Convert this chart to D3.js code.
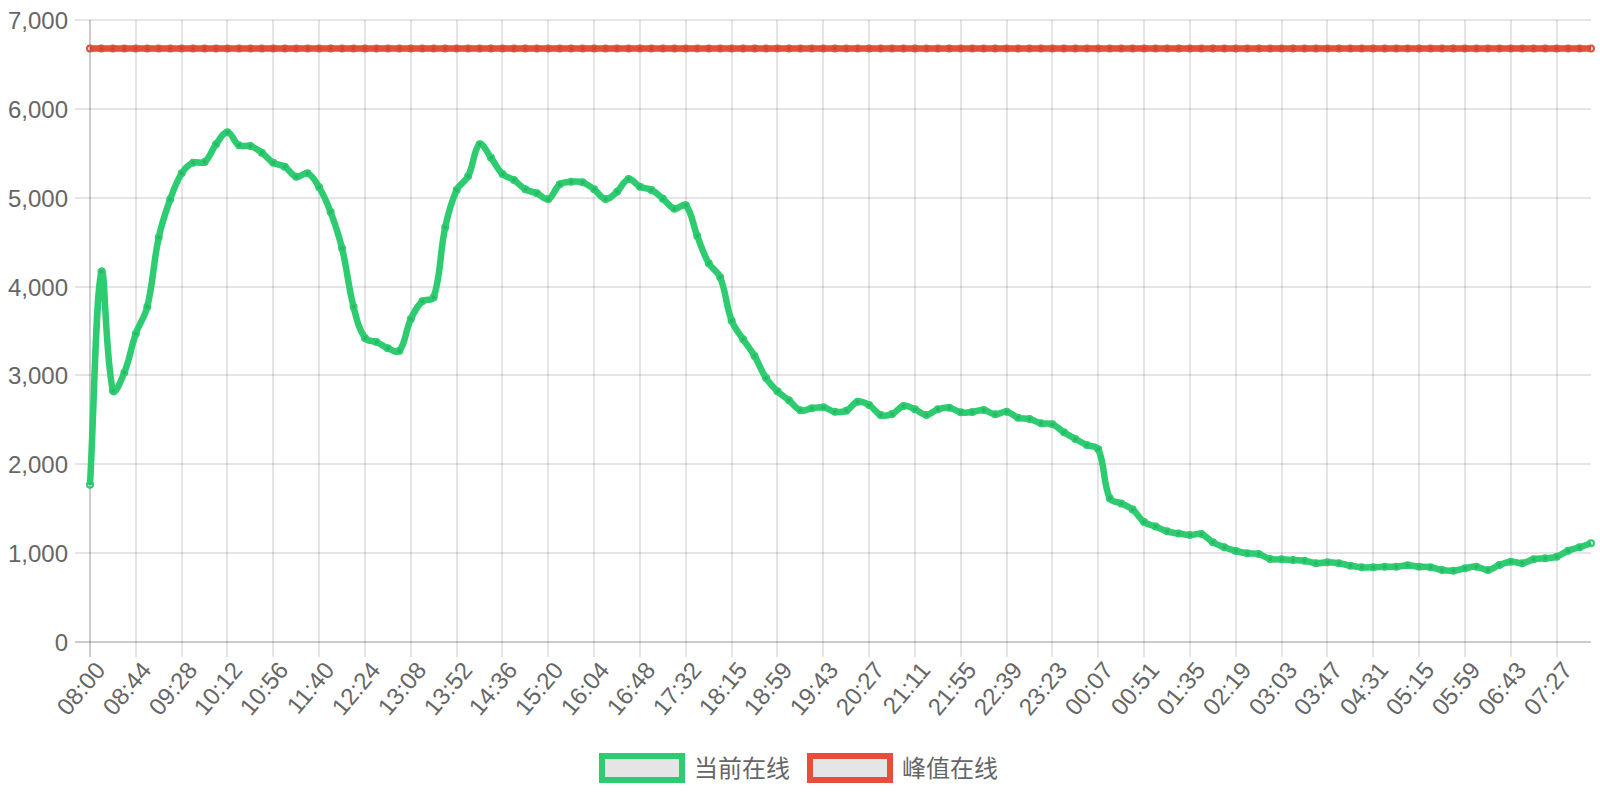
<!DOCTYPE html>
<html><head><meta charset="utf-8">
<script src="https://cdn.jsdelivr.net/npm/d3@7/dist/d3.min.js"></script>
<style>html,body{margin:0;padding:0;background:#fff;}svg{display:block;}</style>
</head><body>
<svg id="chart" width="1600" height="800"></svg>
<script>
const timeLabels = ["08:00","08:11","08:22","08:33","08:44","08:55","09:06","09:17","09:28","09:39","09:50","10:01","10:12","10:23","10:34","10:45","10:56","11:07","11:18","11:29","11:40","11:51","12:02","12:13","12:24","12:35","12:46","12:57","13:08","13:19","13:30","13:41","13:52","14:03","14:14","14:25","14:36","14:47","14:58","15:09","15:20","15:31","15:42","15:53","16:04","16:15","16:26","16:37","16:48","16:59","17:10","17:21","17:32","17:43","17:54","18:04","18:15","18:26","18:37","18:48","18:59","19:10","19:21","19:32","19:43","19:54","20:05","20:16","20:27","20:38","20:49","21:00","21:11","21:22","21:33","21:44","21:55","22:06","22:17","22:28","22:39","22:50","23:01","23:12","23:23","23:34","23:45","23:56","00:07","00:18","00:29","00:40","00:51","01:02","01:13","01:24","01:35","01:46","01:57","02:08","02:19","02:30","02:41","02:52","03:03","03:14","03:25","03:36","03:47","03:58","04:09","04:20","04:31","04:42","04:53","05:04","05:15","05:26","05:37","05:48","05:59","06:10","06:21","06:32","06:43","06:54","07:05","07:16","07:27","07:38","07:49","08:00"];

const currentOnline = [1770,4167,2827,3034,3470,3773,4554,4982,5274,5394,
 5402,5601,5736,5590,5582,5506,5394,5349,5236,5274,
 5117,4839,4430,3773,3420,3375,3305,3278,3635,3834,
 3879,4667,5087,5241,5601,5450,5267,5199,5094,5049,
 4985,5151,5180,5173,5094,4985,5068,5210,5124,5087,
 4989,4876,4914,4569,4262,4104,3616,3406,3219,2971,
 2821,2720,2607,2630,2641,2592,2603,2704,2667,2555,
 2566,2656,2619,2555,2619,2637,2585,2588,2611,2562,
 2592,2524,2510,2461,2450,2360,2285,2217,2169,1617,
 1560,1490,1350,1300,1245,1222,1204,1215,1122,1066,
 1024,998,990,934,931,923,915,886,897,886,
 859,841,841,848,848,863,848,841,810,803,
 829,848,810,867,904,886,931,942,960,1027,
 1066,1111];

const peakOnline = [6678,6678,6678,6678,6678,6678,6678,6678,6678,6678,6678,6678,
 6678,6678,6678,6678,6678,6678,6678,6678,6678,6678,6678,6678,
 6678,6678,6678,6678,6678,6678,6678,6678,6678,6678,6678,6678,
 6678,6678,6678,6678,6678,6678,6678,6678,6678,6678,6678,6678,
 6678,6678,6678,6678,6678,6678,6678,6678,6678,6678,6678,6678,
 6678,6678,6678,6678,6678,6678,6678,6678,6678,6678,6678,6678,
 6678,6678,6678,6678,6678,6678,6678,6678,6678,6678,6678,6678,
 6678,6678,6678,6678,6678,6678,6678,6678,6678,6678,6678,6678,
 6678,6678,6678,6678,6678,6678,6678,6678,6678,6678,6678,6678,
 6678,6678,6678,6678,6678,6678,6678,6678,6678,6678,6678,6678,
 6678,6678,6678,6678,6678,6678,6678,6678,6678,6678,6678,6678];

const xTickLabels = ["08:00","08:44","09:28","10:12","10:56","11:40","12:24","13:08","13:52","14:36","15:20","16:04","16:48","17:32","18:15","18:59","19:43","20:27","21:11","21:55","22:39","23:23","00:07","00:51","01:35","02:19","03:03","03:47","04:31","05:15","05:59","06:43","07:27"];
const yTickValues = [0,1000,2000,3000,4000,5000,6000,7000];
const seriesNames = ["当前在线","峰值在线"];
const seriesColors = ["#2ecc71","#e74c3c"];

const FONT = '"Liberation Sans","Noto Sans CJK SC",Arial,sans-serif';
const area = {left:90, right:1591, top:20, bottom:642};
const tickLen = 15;
const svg = d3.select("#chart");

const idx = d3.range(timeLabels.length);
const x = d3.scalePoint().domain(idx).range([area.left, area.right]);
const y = d3.scaleLinear().domain([0, 7000]).range([area.bottom, area.top]);

// Y axis with gridlines
const yAxis = d3.axisLeft(y).tickValues(yTickValues).tickFormat(d3.format(","))
  .tickSizeInner(-(area.right - (area.left - tickLen))).tickSizeOuter(0).tickPadding(7).offset(0);
const gy = svg.append("g").attr("transform", `translate(${area.left - tickLen},0)`).call(yAxis);
gy.select(".domain").remove();
gy.selectAll(".tick").attr("transform", d => `translate(0,${Math.round(y(d))})`);
gy.selectAll(".tick line").attr("stroke", d => d === 0 ? "rgba(0,0,0,0.2)" : "rgba(0,0,0,0.1)").attr("stroke-width", 2);
gy.selectAll(".tick text").attr("fill", "#666").style("font-family", FONT).style("font-size", "24px").attr("dy", "0.36em");

// X axis with gridlines
const xTickIdx = xTickLabels.map(l => timeLabels.indexOf(l));
const xAxis = d3.axisBottom(x).tickValues(xTickIdx).tickFormat(i => timeLabels[i])
  .tickSizeInner(-(area.bottom + tickLen - area.top)).tickSizeOuter(0).offset(0);
const gx = svg.append("g").attr("transform", `translate(0,${area.bottom + tickLen})`).call(xAxis);
gx.select(".domain").remove();
gx.selectAll(".tick").attr("transform", d => `translate(${Math.round(x(d))},0)`);
gx.selectAll(".tick line").attr("stroke", d => d === 0 ? "rgba(0,0,0,0.2)" : "rgba(0,0,0,0.1)").attr("stroke-width", 2);
gx.selectAll(".tick text").attr("fill", "#666").style("font-family", FONT).style("font-size", "24px")
  .attr("text-anchor", "end").attr("x", 0).attr("y", 0).attr("dy", "0.9em").attr("transform", "rotate(-50)");

// Chart.js-style spline (tension 0.4)
function splinePath(pts, t) {
  const cps = pts.map((cur, i) => {
    const prev = pts[i - 1] || cur, next = pts[i + 1] || cur;
    const d01 = Math.hypot(cur[0] - prev[0], cur[1] - prev[1]);
    const d12 = Math.hypot(next[0] - cur[0], next[1] - cur[1]);
    let s01 = d01 / (d01 + d12), s12 = d12 / (d01 + d12);
    if (isNaN(s01)) s01 = 0; if (isNaN(s12)) s12 = 0;
    const fa = t * s01, fb = t * s12;
    const cl = v => [Math.max(area.left, Math.min(area.right, v[0])), Math.max(area.top, Math.min(area.bottom, v[1]))];
    return {
      p: cl([cur[0] - fa * (next[0] - prev[0]), cur[1] - fa * (next[1] - prev[1])]),
      n: cl([cur[0] + fb * (next[0] - prev[0]), cur[1] + fb * (next[1] - prev[1])])
    };
  });
  const p = d3.path();
  p.moveTo(pts[0][0], pts[0][1]);
  for (let i = 1; i < pts.length; i++) {
    p.bezierCurveTo(cps[i - 1].n[0], cps[i - 1].n[1], cps[i].p[0], cps[i].p[1], pts[i][0], pts[i][1]);
  }
  return p.toString();
}

const seriesData = [currentOnline, peakOnline];
[1, 0].forEach(si => {
  const vals = seriesData[si];
  const pts = vals.map((v, i) => [x(i), y(v)]);
  const g = svg.append("g");
  g.append("path").attr("d", splinePath(pts, 0.4)).attr("fill", "none")
    .attr("stroke", seriesColors[si]).attr("stroke-width", 6.5).attr("stroke-linejoin", "round");
  g.selectAll("circle").data(vals).join("circle")
    .attr("cx", (v, i) => x(i)).attr("cy", v => y(v)).attr("r", 3)
    .attr("fill", "rgba(0,0,0,0.1)").attr("stroke", seriesColors[si]).attr("stroke-width", 2);
});

// Legend
const boxW = 80, boxH = 24, fs = 24, itemGap = 20;
const lg = svg.append("g");
const items = lg.selectAll("g").data(seriesNames).join("g");
items.append("text").text(d => d).style("font-family", FONT).style("font-size", fs + "px")
  .attr("fill", "#666").attr("dominant-baseline", "central");
const widths = [];
items.select("text").each(function () { widths.push(this.getComputedTextLength()); });
const itemW = widths.map(w => boxW + fs / 2 + w);
const total = d3.sum(itemW) + itemGap * (itemW.length - 1);
let cx = 800 - total / 2;
const ly = 768;
items.each(function (d, i) {
  const g = d3.select(this);
  g.insert("rect", "text").attr("x", cx).attr("y", ly - boxH / 2).attr("width", boxW).attr("height", boxH)
    .attr("fill", "rgba(0,0,0,0.1)").attr("stroke", seriesColors[i]).attr("stroke-width", 6);
  g.select("text").attr("x", cx + boxW + fs / 2).attr("y", ly);
  cx += itemW[i] + itemGap;
});
</script>
</body></html>
